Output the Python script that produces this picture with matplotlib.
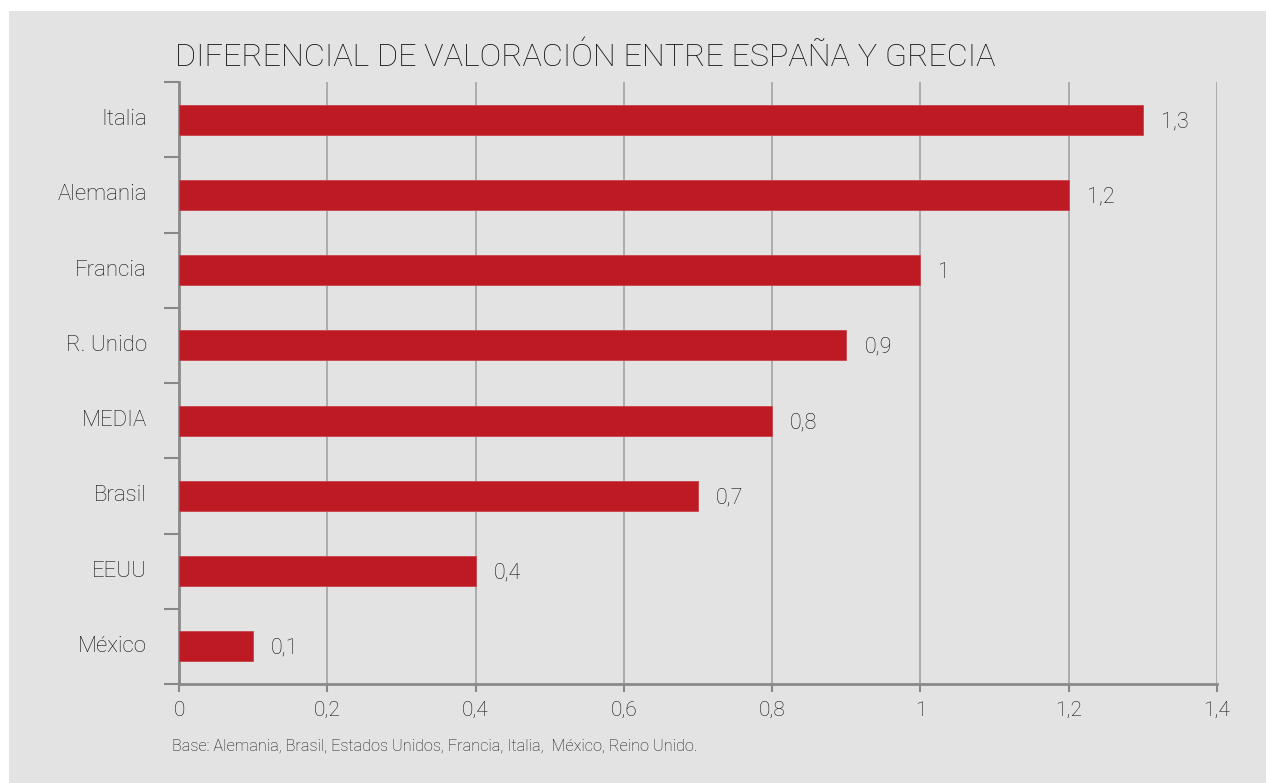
import numpy as np
import matplotlib.pyplot as plt
from matplotlib.patches import Rectangle

# data (top to bottom as shown)
paises = ['Italia', 'Alemania', 'Francia', 'R. Unido', 'MEDIA', 'Brasil', 'EEUU', 'México']
valores = [1.3, 1.2, 1.0, 0.9, 0.8, 0.7, 0.4, 0.1]
xticks = [0, 0.2, 0.4, 0.6, 0.8, 1.0, 1.2, 1.4]

titulo = 'DIFERENCIAL DE VALORACIÓN ENTRE ESPAÑA Y GRECIA'
nota = 'Base: Alemania, Brasil, Estados Unidos, Francia, Italia,  México, Reino Unido.'

plt.rcParams['font.family'] = ['Roboto', 'DejaVu Sans']
plt.rcParams['font.weight'] = 'light'

def coma(v):
    return ('%g' % v).replace('.', ',')

fig = plt.figure(figsize=(12.66, 7.83), dpi=100)
fig.patch.set_facecolor('white')
# gray panel behind everything
fig.patches.append(Rectangle((9/1266, 0), 1 - 9/1266, 1 - 11/783, transform=fig.transFigure,
                             facecolor='#e3e3e3', edgecolor='none', zorder=-10))

ax = fig.add_axes([179/1266, 1 - 684/783, (1217-179)/1266, (684-82)/783])
ax.set_facecolor('none')

pos = np.arange(len(paises))[::-1]
ax.barh(pos, valores, height=0.4, color='#be1a24', edgecolor='#c9434a', linewidth=0.6, zorder=3)

for p, v in zip(pos, valores):
    ax.annotate(coma(v), (v, p), xytext=(13, -1.5), textcoords='offset points',
                va='center', ha='left', fontsize=15.5, color='#111111')

ax.set_xlim(0, 1.4)
ax.set_ylim(-0.5, len(paises) - 0.5)

ax.set_xticks(xticks)
ax.set_xticklabels([coma(t) for t in xticks], fontsize=15, color='#111111')
ax.tick_params(axis='x', length=6, width=1.5, color='#888888', pad=6)

ax.set_yticks(pos)
ax.set_yticklabels(paises, fontsize=16, color='#111111', va='center')
ax.tick_params(axis='y', which='major', length=0, pad=23)
ax.set_yticks(np.arange(-0.5, len(paises)), minor=True)
ax.tick_params(axis='y', which='minor', length=11, width=1.5, color='#888888')

ax.grid(axis='x', color='#a8a8a8', linewidth=1.3, zorder=0)
ax.set_axisbelow(True)

for s in ['top', 'right']:
    ax.spines[s].set_visible(False)
for s in ['left', 'bottom']:
    ax.spines[s].set_color('#8a8a8a')
    ax.spines[s].set_linewidth(2)

fig.text(175/1266, 1 - 57/783, titulo, fontsize=23.3, color='#111111', va='center', ha='left')
fig.text(172/1266, 1 - 746/783, nota, fontsize=11.7, color='#111111', va='center', ha='left')

fig.savefig('out.png', dpi=100)
